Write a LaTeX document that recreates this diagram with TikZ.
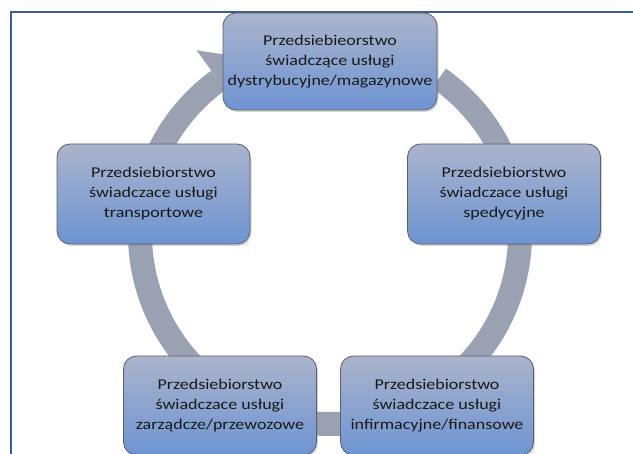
\documentclass[tikz,border=0pt]{standalone}
\usepackage{fontspec}
\setmainfont{Carlito}[FakeStretch=1.2]
\usetikzlibrary{shadows}
\definecolor{ramka}{RGB}{54,95,150}
\definecolor{pierscien}{RGB}{154,161,178}
\definecolor{gora}{RGB}{170,180,204}
\definecolor{dol}{RGB}{110,148,210}
\definecolor{obrys}{RGB}{90,95,106}
\begin{document}
\begin{tikzpicture}
	[x=1pt, y=1pt,
	every node/.style={rounded corners=13pt, draw=obrys, line width=0.8pt,
		top color=gora, bottom color=dol, align=center, text=black!90,
		font=\fontsize{15}{20}\selectfont, minimum width=193pt, minimum height=100pt,
		drop shadow={shadow xshift=1.5pt, shadow yshift=-2pt, opacity=0.35}},
	ring/.style={draw=pierscien, line width=24pt}]
	\useasboundingbox (0,0) rectangle (633,454);
	% ramka
	\draw [ramka, line width=1.3pt] (633,442) -- (11,442) -- (11,0);
	% pierscien ze strzalka
	\coordinate (ctr) at (330,220);
	\draw [ring] (ctr) ++(55:190) arc [start angle=55, end angle=-234, radius=190];
	\fill [pierscien] ([shift={(126:166)}]ctr) -- ([shift={(126:227)}]ctr)
		-- ([shift={(113:190)}]ctr) -- cycle;
	% przedsiebiorstwa
	\node (dystr) [minimum width=214pt, minimum height=97pt] at (330,392.5)
		{Przedsiebieorstwo\\świadczące usługi\\dystrybucyjne/magazynowe};
	\node (sped) at (504,260) {Przedsiebiorstwo\\świadczace usługi\\spedycyjne};
	\node (info) [minimum height=99pt] at (437,48.5)
		{Przedsiebiorstwo\\świadczace usługi\\infirmacyjne/finansowe};
	\node (zarz) [minimum height=99pt] at (220,48.5)
		{Przedsiebiorstwo\\świadczace usługi\\zarządcze/przewozowe};
	\node (transp) at (153.5,260) {Przedsiebiorstwo\\świadczace usługi\\transportowe};
\end{tikzpicture}
\end{document}
